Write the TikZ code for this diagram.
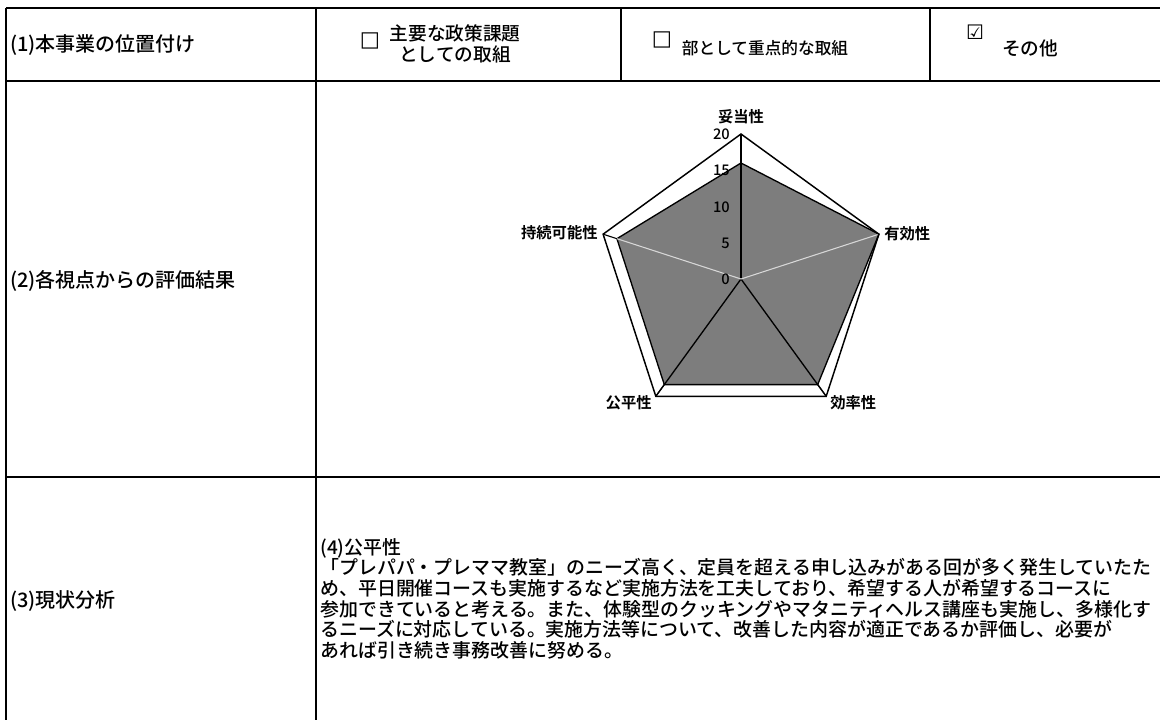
\documentclass[tikz,border=0pt]{standalone}
\usepackage{fontspec}
\setmainfont{Noto Sans CJK JP}[UprightFont=* Medium,BoldFont=* Bold]
\newfontfamily\symfont{DejaVu Sans}
\usepackage{tikz}
\usepackage{xcolor}

\tikzset{
  rule/.style={line width=1.5pt},
  rowlabel/.style={anchor=west,inner sep=0.75pt,font=\fontsize{15}{17}\selectfont},
  celltext/.style={inner sep=0.75pt,align=center,font=\fontsize{14}{15.75}\selectfont},
  checkmark/.style={inner sep=0.75pt,font=\symfont\bfseries\fontsize{16}{16}\selectfont},
  axislabel/.style={inner sep=0.75pt,font=\bfseries\fontsize{11.5}{13}\selectfont},
  ticklabel/.style={anchor=east,inner sep=0.75pt,font=\fontsize{11}{12}\selectfont},
}

\begin{document}
\begin{tikzpicture}[x=0.75pt,y=0.75pt,yscale=-1,xscale=1]
    \useasboundingbox (0,0) rectangle (1160,720);

    %Shape: Table rules
    \draw [rule] (6,8) -- (1160,8) ;
    \draw [rule] (6,81) -- (1160,81) ;
    \draw [rule] (6,477) -- (1160,477) ;
    \draw [rule] (6,8) -- (6,720) ;
    \draw [rule] (316,8) -- (316,720) ;
    \draw [rule] (621,8) -- (621,81) ;
    \draw [rule] (930,8) -- (930,81) ;

    % Text Node
    \draw (9,45) node (pos) [rowlabel] {(1)本事業の位置付け};
    \draw (9,281) node (eval) [rowlabel] {(2)各視点からの評価結果};
    \draw (9,601) node (stat) [rowlabel] {(3)現状分析};

    % Text Node
    \draw (370,41) node (boxa) [checkmark] {□};
    \draw (455,44) node (opta) [celltext] {主要な政策課題\\としての取組};
    \draw (662,40) node (boxb) [checkmark] {□};
    \draw (765,48) node (optb) [celltext,font=\fontsize{12.5}{14}\selectfont] {部として重点的な取組};
    \draw (975,32) node (boxc) [checkmark,font=\symfont\fontsize{15}{15}\selectfont] {☑};
    \draw (1030,48) node (optc) [celltext] {その他};

    %Shape: Radar data area
    \draw  [line width=1pt][fill={rgb, 255:red, 125; green, 125; blue, 125 }  ,fill opacity=1 ] (741,163) -- (878.9,234.2) -- (817.7,384.6) -- (664.3,384.6) -- (616.9,238.7) -- cycle ;
    %Shape: Radar spokes
    \draw  [line width=1pt] (741,279) -- (741,134) ;
    \draw  [line width=1pt] (741,279) -- (826.2,396.3) ;
    \draw  [line width=1pt] (741,279) -- (655.8,396.3) ;
    \draw  [draw={rgb, 255:red, 215; green, 215; blue, 215 }  ,line width=0.8pt] (741,279) -- (878.9,234.2) ;
    \draw  [draw={rgb, 255:red, 215; green, 215; blue, 215 }  ,line width=0.8pt] (741,279) -- (603.1,234.2) ;
    %Shape: Radar frame
    \draw  [line width=1.1pt] (741,134) -- (878.9,234.2) -- (826.2,396.3) -- (655.8,396.3) -- (603.1,234.2) -- cycle ;
    \draw  [line width=0.8pt] (603.1,234.2) -- (616.9,238.7) (655.8,396.3) -- (664.3,384.6) (826.2,396.3) -- (817.7,384.6) ;

    % Text Node
    \draw (731,134) node (t20) [ticklabel] {20};
    \draw (731,170) node (t15) [ticklabel] {15};
    \draw (731,207) node (t10) [ticklabel] {10};
    \draw (731,243) node (t5) [ticklabel] {5};
    \draw (731,279) node (t0) [ticklabel] {0};

    % Text Node
    \draw (741,125) node (ax1) [axislabel,anchor=south] {妥当性};
    \draw (883,234) node (ax2) [axislabel,anchor=west] {有効性};
    \draw (829,403) node (ax3) [axislabel,anchor=west] {効率性};
    \draw (653,403) node (ax4) [axislabel,anchor=east] {公平性};
    \draw (599,233) node (ax5) [axislabel,anchor=east] {持続可能性};

    % Text Node
    \draw (319,537) node (body) [anchor=north west,inner sep=0.75pt,align=left,font=\fontsize{14.2}{15.5}\selectfont] {(4)公平性\\
「プレパパ・プレママ教室」のニーズ高く、定員を超える申し込みがある回が多く発生していたた\\
め、平日開催コースも実施するなど実施方法を工夫しており、希望する人が希望するコースに\\
参加できていると考える。また、体験型のクッキングやマタニティヘルス講座も実施し、多様化す\\
るニーズに対応している。実施方法等について、改善した内容が適正であるか評価し、必要が\\
あれば引き続き事務改善に努める。};

\end{tikzpicture}
\end{document}
